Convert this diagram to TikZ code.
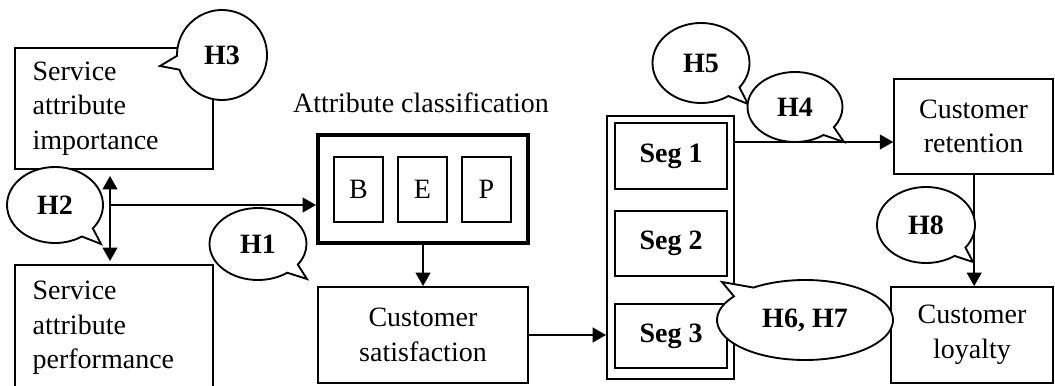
\documentclass[tikz,border=0pt]{standalone}
\usepackage{fontspec}
\setmainfont{Liberation Serif}
\usetikzlibrary{shapes.callouts,arrows.meta}

\tikzset{
  box/.style={draw, line width=1.4pt, inner sep=0pt, align=center},
  seg/.style={box, font=\fontsize{21}{26}\selectfont\bfseries, minimum width=84pt},
  hyp/.style={ellipse callout, draw, fill=white, line width=1.4pt, inner sep=0pt,
    font=\fontsize{21}{26}\selectfont\bfseries, callout pointer arc=18},
  arr/.style={line width=1.4pt, -{Triangle[length=10pt,width=11pt]}}
}

\begin{document}
\begin{tikzpicture}[x=0.75pt, y=-0.75pt, font=\fontsize{21}{26}\selectfont]
  \useasboundingbox (0,0) rectangle (1055,385);
  \begin{scope}
    \clip (0,0) rectangle (1055,385);
    % left boxes
    \node[box, align=left, text width=122pt, inner xsep=13pt, minimum width=148.5pt, minimum height=90.75pt]
      (imp) at (114,108.5) {Service\\attribute\\importance};
    \node[box, align=left, text width=122pt, inner xsep=13pt, minimum width=148.5pt, minimum height=94.5pt]
      (perf) at (114,328) {Service\\attribute\\performance};
  \end{scope}

  % attribute classification
  \node (clslabel) at (421,103) {Attribute classification};
  \node[box, line width=3pt, minimum width=157.5pt, minimum height=81pt] (cls) at (423,189) {};
  \node[box, minimum width=36.75pt, minimum height=48.75pt] (b) at (358.5,189.5) {B};
  \node[box, minimum width=36.75pt, minimum height=48.75pt] (e) at (422.5,189.5) {E};
  \node[box, minimum width=36.75pt, minimum height=48.75pt] (p) at (486.5,189.5) {P};
  \node[box, minimum width=157.5pt, minimum height=72pt] (sat) at (423,335) {Customer\\satisfaction};

  % segments
  \node[box, minimum width=95.25pt, minimum height=197.25pt] (segs) at (670.5,247.5) {};
  \node[seg, minimum height=49.5pt] (seg1) at (671,156) {Seg 1};
  \node[seg, minimum height=48.75pt] (seg2) at (671,243.5) {Seg 2};
  \node[seg, minimum height=48pt] (seg3) at (671,336) {Seg 3};

  % outcomes
  \node[box, minimum width=119pt, minimum height=71.25pt] (ret) at (973.5,126.5) {Customer\\retention};
  \node[box, minimum width=121.5pt, minimum height=72pt] (loy) at (972,335) {Customer\\loyalty};

  % connectors
  \coordinate (dtop) at (110,176);
  \coordinate (dbot) at (110,261);
  \coordinate (jn) at (110,205);
  \coordinate (segout) at (734,142);
  \draw[line width=1.4pt, {Triangle[length=10pt,width=11pt]}-{Triangle[length=10pt,width=11pt]}] (dtop) -- (dbot);
  \draw[arr] (jn) -- (jn -| cls.west);
  \draw[arr] (cls.south) -- (sat.north);
  \draw[arr] (sat.east) -- (sat.east -| segs.west);
  \draw[arr] (segout) -- (segout -| ret.west);
  \draw[arr] ([xshift=0.5pt]ret.south) -- ([xshift=0.5pt]ret.south |- loy.north);

  % hypotheses
  \node[hyp, minimum width=67.5pt, minimum height=67.5pt, callout absolute pointer={(160,66)}] (h3) at (222,55) {H3};
  \node[hyp, minimum width=72pt, minimum height=57pt, callout absolute pointer={(101,244)}] (h2) at (55,205) {H2};
  \node[hyp, minimum width=72.75pt, minimum height=54pt, callout absolute pointer={(307,279)}] (h1) at (258,244) {H1};
  \node[hyp, minimum width=72.75pt, minimum height=60pt, callout absolute pointer={(748,104)}] (h5) at (701,63) {H5};
  \node[hyp, minimum width=71.25pt, minimum height=52.5pt, callout absolute pointer={(844,142)}] (h4) at (795,107) {H4};
  \node[hyp, minimum width=73.5pt, minimum height=57pt, callout absolute pointer={(973,262)}] (h8) at (926,225) {H8};
  \node[hyp, minimum width=132pt, minimum height=60pt, callout absolute pointer={(722,282)}] (h67) at (805,320) {H6, H7};
\end{tikzpicture}
\end{document}
